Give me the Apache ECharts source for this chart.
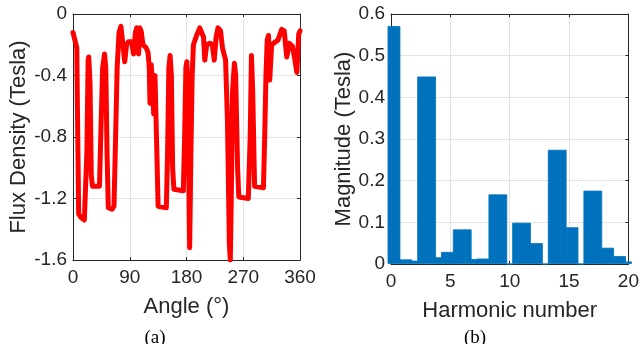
<!DOCTYPE html>
<html>
<head>
<meta charset="utf-8">
<script src="https://cdn.jsdelivr.net/npm/echarts@6/dist/echarts.min.js"></script>
<style>
html,body{margin:0;padding:0;background:#fff;}
#c{width:642px;height:344px;}
</style>
</head>
<body>
<div id="c"></div>
<script>
// ---- Panel (a): flux density vs angle ----
const angleDeg = [0,3,6,7,9,12,18,20,22,24,25,27,29,31,42,44,47,50,52,54,56,62,65,67,70,73,76,79,82,85,88,93,96,99,101,103,104,106,108,111,116,119,121,122,124,126,128,130,131,133,135,148,150,152,154,156,158,160,175,177,179,180.5,182,185,187,189,191,196,201,204,207,209,212,217,221,224,227,230,234,237,242,245,248,249.5,251,253,256,258,261,263,278,281,283,285,288,302,304,306,308,310,312,315,318,325,331,335,339,343,348,352,355,358,360];
const fluxDensity = [-0.12,-0.13,-0.22,-0.6,-1.30,-1.32,-1.34,-1.35,-0.9,-0.30,-0.28,-0.45,-1.05,-1.12,-1.12,-0.8,-0.35,-0.26,-0.35,-0.9,-1.26,-1.27,-1.25,-0.9,-0.35,-0.12,-0.08,-0.09,-0.31,-0.2,-0.18,-0.18,-0.26,-0.12,-0.09,-0.18,-0.26,-0.09,-0.11,-0.2,-0.22,-0.25,-0.35,-0.58,-0.33,-0.45,-0.65,-0.40,-0.39,-0.9,-1.25,-1.26,-0.9,-0.35,-0.27,-0.4,-1.0,-1.14,-1.15,-0.8,-0.35,-0.31,-0.45,-1.52,-0.9,-0.4,-0.2,-0.14,-0.09,-0.09,-0.15,-0.3,-0.2,-0.19,-0.2,-0.3,-0.15,-0.09,-0.11,-0.22,-0.30,-0.7,-1.5,-1.6,-1.2,-0.5,-0.32,-0.40,-1.0,-1.19,-1.2,-0.8,-0.27,-0.5,-1.12,-1.13,-0.8,-0.40,-0.17,-0.14,-0.43,-0.2,-0.19,-0.17,-0.10,-0.11,-0.28,-0.19,-0.21,-0.30,-0.38,-0.13,-0.11];
const angleTicks = ['0','90','180','270','360'];
const fluxTicks = ['0','-0.4','-0.8','-1.2','-1.6'];

// ---- Panel (b): harmonic spectrum ----
const harmonicNumber = [0,0.5,1,1.5,2,2.5,3,3.5,4,4.5,5,5.5,6,6.5,7,7.5,8,8.5,9,9.5,10,10.5,11,11.5,12,12.5,13,13.5,14,14.5,15,15.5,16,16.5,17,17.5,18,18.5,19,19.5,20];
const magnitude = [0.571,0.571,0.011,0.011,0.008,0.45,0.45,0.45,0.016,0.029,0.029,0.083,0.083,0.083,0.012,0.013,0.013,0.167,0.167,0.167,0,0.099,0.099,0.099,0.05,0.05,0,0.274,0.274,0.274,0.088,0.088,0,0.176,0.176,0.176,0.039,0.039,0.019,0.019,0.006];
const harmonicTicks = ['0','5','10','15','20'];
const magnitudeTicks = ['0','0.1','0.2','0.3','0.4','0.5','0.6'];

const FONT = 'Liberation Sans, Arial, sans-serif';
const AX = '#262626';
const GRIDC = '#e3e3e3';

function tickFmt(arr) {
  return function (v) {
    const s = arr.find(l => Math.abs(parseFloat(l) - v) < 1e-6);
    return s !== undefined ? s : '';
  };
}

function mainX(gi, min, max, interval, name, labels, gap) {
  return {
    type: 'value', gridIndex: gi, min: min, max: max, interval: interval,
    position: 'bottom',
    name: name, nameLocation: 'middle', nameGap: gap,
    nameTextStyle: {fontFamily: FONT, fontSize: 22, color: AX},
    axisLine: {show: true, onZero: false, lineStyle: {color: AX, width: 1}},
    axisTick: {show: true, inside: true, length: 3, lineStyle: {color: AX}},
    axisLabel: {fontFamily: FONT, fontSize: 19, color: AX, margin: 8,
      formatter: tickFmt(labels)},
    splitLine: {show: true, lineStyle: {color: GRIDC, width: 1}}
  };
}
function boxX(gi, min, max, interval) {
  return {
    type: 'value', gridIndex: gi, min: min, max: max, interval: interval,
    position: 'top',
    axisLine: {show: true, onZero: false, lineStyle: {color: AX, width: 1}},
    axisTick: {show: true, inside: true, length: 3, lineStyle: {color: AX}},
    axisLabel: {show: false}, splitLine: {show: false}
  };
}
function mainY(gi, min, max, interval, name, labels, gap) {
  return {
    type: 'value', gridIndex: gi, min: min, max: max, interval: interval,
    position: 'left',
    name: name, nameLocation: 'middle', nameGap: gap,
    nameTextStyle: {fontFamily: FONT, fontSize: 22, color: AX},
    axisLine: {show: true, onZero: false, lineStyle: {color: AX, width: 1}},
    axisTick: {show: true, inside: true, length: 3, lineStyle: {color: AX}},
    axisLabel: {fontFamily: FONT, fontSize: 19, color: AX, margin: 6,
      formatter: tickFmt(labels)},
    splitLine: {show: true, lineStyle: {color: GRIDC, width: 1}}
  };
}
function boxY(gi, min, max, interval) {
  return {
    type: 'value', gridIndex: gi, min: min, max: max, interval: interval,
    position: 'right',
    axisLine: {show: true, onZero: false, lineStyle: {color: AX, width: 1}},
    axisTick: {show: true, inside: true, length: 3, lineStyle: {color: AX}},
    axisLabel: {show: false}, splitLine: {show: false}
  };
}

const chart = echarts.init(document.getElementById('c'), null, {renderer: 'canvas'});
chart.setOption({
  animation: false,
  backgroundColor: '#fff',
  grid: [
    {left: 73, top: 14, width: 227, height: 246},
    {left: 391, top: 14, width: 238, height: 250}
  ],
  xAxis: [
    mainX(0, 0, 360, 90, 'Angle (°)', angleTicks, 36),
    boxX(0, 0, 360, 90),
    mainX(1, 0, 20, 5, 'Harmonic number', harmonicTicks, 36),
    boxX(1, 0, 20, 5)
  ],
  yAxis: [
    mainY(0, -1.6, 0, 0.4, 'Flux Density (Tesla)', fluxTicks, 25),
    boxY(0, -1.6, 0, 0.4),
    mainY(1, 0, 0.6, 0.1, 'Magnitude (Tesla)', magnitudeTicks, 34),
    boxY(1, 0, 0.6, 0.1)
  ],
  series: [
    {
      type: 'line', xAxisIndex: 0, yAxisIndex: 0,
      data: angleDeg.map((a, i) => [a, fluxDensity[i]]),
      showSymbol: false, symbol: 'none', smooth: false, clip: true,
      lineStyle: {color: '#ff0000', width: 5, join: 'round', cap: 'round'}
    },
    {
      type: 'bar', xAxisIndex: 2, yAxisIndex: 2,
      data: harmonicNumber.map((h, i) => [h, magnitude[i]]),
      barWidth: '115%', barGap: '0%', clip: true,
      itemStyle: {color: '#0072bd', borderColor: '#0072bd', borderWidth: 0.8}
    }
  ],
  graphic: [
    {type: 'text', x: 155, y: 338, style: {text: '(a)', align: 'center', verticalAlign: 'middle', font: '19px "Liberation Serif", "Times New Roman", serif', fill: '#000'}},
    {type: 'text', x: 475, y: 338, style: {text: '(b)', align: 'center', verticalAlign: 'middle', font: '19px "Liberation Serif", "Times New Roman", serif', fill: '#000'}}
  ]
});
</script>
</body>
</html>
